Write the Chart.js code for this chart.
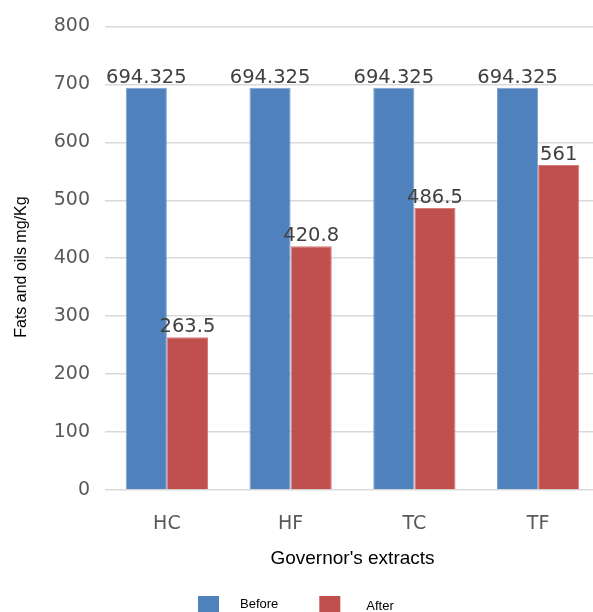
<!DOCTYPE html>
<html>
<head>
<meta charset="utf-8">
<script src="https://cdn.jsdelivr.net/npm/chart.js@4/dist/chart.umd.min.js"></script>
<style>
  html, body { margin: 0; padding: 0; background: #fff; overflow: hidden; }
  #wrap { width: 600px; height: 612px; }
</style>
</head>
<body>
<div id="wrap"><canvas id="fatsChart"></canvas></div>
<script>
const categories = ["HC", "HF", "TC", "TF"];
const beforeValues = [694.325, 694.325, 694.325, 694.325];
const afterValues = [263.5, 420.8, 486.5, 561];
const yTicks = [0, 100, 200, 300, 400, 500, 600, 700, 800];

// numbers above the bars
const valueLabels = {
  id: "valueLabels",
  afterDatasetsDraw(chart) {
    const ctx = chart.ctx;
    ctx.save();
    ctx.font = "19.5px 'DejaVu Sans'";
    ctx.fillStyle = "#404040";
    ctx.textAlign = "center";
    ctx.textBaseline = "alphabetic";
    chart.data.datasets.forEach((ds, i) => {
      chart.getDatasetMeta(i).data.forEach((bar, j) => {
        ctx.fillText(String(ds.data[j]), bar.x, bar.y - 5);
      });
    });
    ctx.restore();
  }
};

// legend squares at the very bottom
const bottomLegend = {
  id: "bottomLegend",
  afterDraw(chart) {
    const ctx = chart.ctx;
    ctx.save();
    ctx.font = "13px 'Liberation Sans'";
    ctx.textBaseline = "alphabetic";
    let x = 198;
    const yOff = [0, 2.5];
    chart.data.datasets.forEach((ds, i) => {
      ctx.fillStyle = ds.backgroundColor;
      ctx.fillRect(x, 596, 21, 18);
      ctx.fillStyle = "#000";
      const tx = x + 21 + (i === 0 ? 21 : 26);
      ctx.fillText(ds.label, tx, 607.5 + yOff[i]);
      x = tx + ctx.measureText(ds.label).width + 41;
    });
    ctx.restore();
  }
};

new Chart(document.getElementById("fatsChart"), {
  type: "bar",
  data: {
    labels: categories,
    datasets: [
      {
        label: "Before",
        data: beforeValues,
        backgroundColor: "#4F81BD",
        borderColor: "#7FA2CF",
        borderWidth: 1,
        categoryPercentage: 0.665,
        barPercentage: 1
      },
      {
        label: "After",
        data: afterValues,
        backgroundColor: "#C0504D",
        borderColor: "#D27F7C",
        borderWidth: 1,
        categoryPercentage: 0.665,
        barPercentage: 1
      }
    ]
  },
  options: {
    responsive: true,
    maintainAspectRatio: false,
    animation: false,
    layout: { padding: { left: 8, top: 24, right: 0, bottom: 30 } },
    plugins: {
      legend: { display: false },
      tooltip: { enabled: false }
    },
    scales: {
      x: {
        grid: { display: false },
        border: { display: false },
        ticks: {
          color: "#595959",
          padding: 15,
          font: { family: "DejaVu Sans", size: 19 }
        },
        title: {
          display: true,
          text: "Governor's extracts",
          color: "#000",
          padding: { top: 0, bottom: 12 },
          font: { family: "Liberation Sans", size: 19 }
        },
        afterFit(scale) { scale.height = 92; }
      },
      y: {
        min: 0,
        max: 800,
        afterBuildTicks(scale) { scale.ticks = yTicks.map(v => ({ value: v })); },
        grid: { color: "#D9D9D9", lineWidth: 1.5, drawTicks: false },
        border: { display: false },
        ticks: {
          color: "#595959",
          padding: 15,
          font: { family: "DejaVu Sans", size: 19 }
        },
        title: {
          display: true,
          text: "Fats and oils mg/Kg    ",
          color: "#000",
          padding: { top: 4, bottom: 0 },
          font: { family: "Liberation Sans", size: 16 }
        },
        afterFit(scale) { scale.width = 97; }
      }
    }
  },
  plugins: [valueLabels, bottomLegend]
});
</script>
</body>
</html>
